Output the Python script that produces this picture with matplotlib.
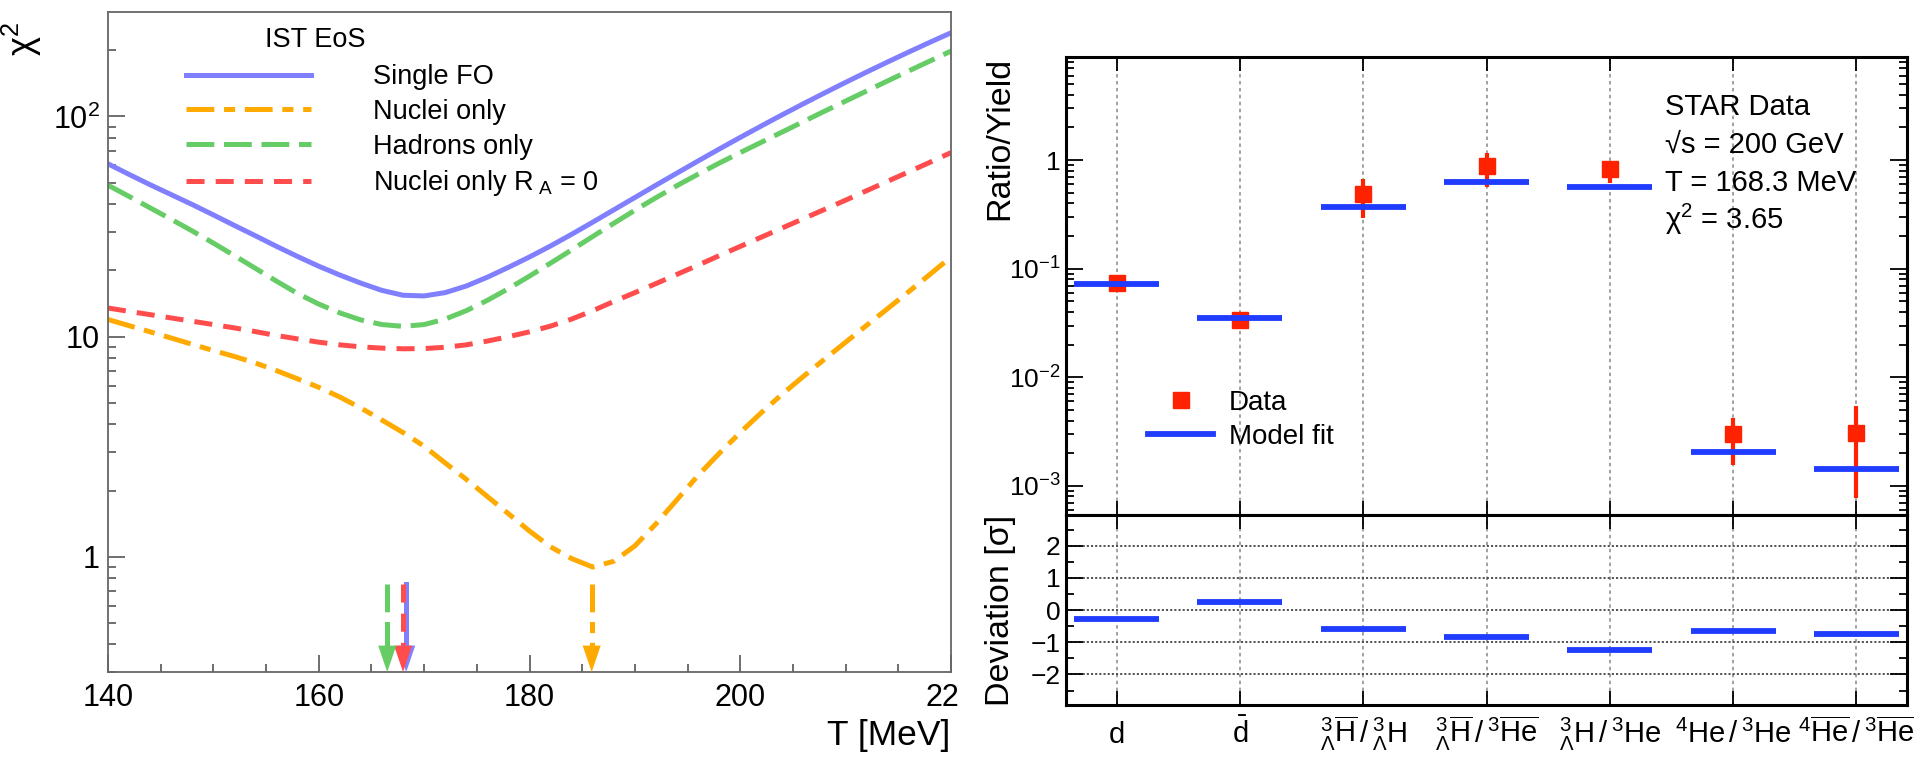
import numpy as np
import matplotlib
matplotlib.use("Agg")
import matplotlib.pyplot as plt
from matplotlib.lines import Line2D
from matplotlib.ticker import LogLocator, NullFormatter, MultipleLocator
from matplotlib.transforms import Bbox, TransformedBbox

plt.rcParams["font.family"] = ["Liberation Sans", "DejaVu Sans"]
plt.rcParams["mathtext.fontset"] = "custom"
plt.rcParams["mathtext.rm"] = "Liberation Sans"
plt.rcParams["mathtext.it"] = "Liberation Sans:italic"
plt.rcParams["mathtext.bf"] = "Liberation Sans:bold"
plt.rcParams["lines.scale_dashes"] = False

# chi^2 scans vs freeze-out temperature (IST EoS)
temp = [140, 142, 144, 146, 148, 150, 152, 154, 156, 158, 160, 162, 164, 166,
        168, 170, 172, 174, 176, 178, 180, 182, 184, 186, 188, 190, 192, 194,
        196, 198, 200, 202, 204, 206, 208, 210, 212, 214, 216, 218, 220]
chi2_single = [60.95, 54.58, 48.98, 44.16, 39.81, 35.73, 31.99, 28.71, 25.70, 23.12,
               20.89, 19.05, 17.50, 16.22, 15.42, 15.31, 15.85, 16.98, 18.62, 20.65,
               23.01, 25.82, 29.17, 33.11, 37.67, 42.85, 48.75, 55.34, 62.81, 71.12,
               80.35, 90.57, 101.9, 114.3, 127.9, 142.9, 159.2, 177.0, 196.3, 217.3, 239.9]
chi2_nuclei = [11.97, 11.22, 10.52, 9.86, 9.23, 8.65, 8.13, 7.59, 7.01, 6.43,
               5.89, 5.32, 4.74, 4.18, 3.67, 3.18, 2.67, 2.25, 1.88, 1.57,
               1.31, 1.11, 0.982, 0.899, 0.955, 1.122, 1.413, 1.820, 2.344, 2.951,
               3.673, 4.519, 5.495, 6.607, 7.907, 9.441, 11.27, 13.43, 16.03, 19.19, 23.01]
chi2_hadrons = [48.75, 43.35, 38.46, 34.12, 30.20, 26.61, 23.33, 20.42, 17.86, 15.70,
                14.06, 12.82, 11.91, 11.35, 11.14, 11.35, 12.02, 13.12, 14.62, 16.52,
                18.84, 21.58, 24.77, 28.51, 32.73, 37.50, 42.76, 48.53, 54.70, 61.38,
                68.55, 76.38, 85.11, 94.84, 105.7, 117.5, 130.6, 145.2, 161.1, 178.6, 198.2]
chi2_nuclei_ra0 = [13.49, 13.03, 12.59, 12.16, 11.75, 11.35, 10.96, 10.54, 10.12, 9.77,
                   9.44, 9.18, 8.99, 8.87, 8.81, 8.83, 8.95, 9.18, 9.55, 10.00,
                   10.52, 11.17, 12.02, 13.12, 14.45, 15.85, 17.42, 19.19, 21.13, 23.33,
                   25.70, 28.31, 31.19, 34.36, 37.84, 41.69, 46.03, 50.82, 56.10, 61.94, 68.55]
fit_labels = ["Single FO", "Nuclei only", "Hadrons only", r"Nuclei only R$_{\ \mathrm{A}}$ = 0"]
# temperature of the chi^2 minimum for each fit
t_best = [168.3, 185.9, 166.5, 168.0]

# STAR yields / ratios at sqrt(s) = 200 GeV
particles = [r"$\mathrm{d}$",
             r"$\bar{\mathrm{d}}$",
             r"${}^{3}_{\Lambda}\overline{\mathrm{H}}\,/\,{}^{3}_{\Lambda}\mathrm{H}$",
             r"${}^{3}_{\Lambda}\overline{\mathrm{H}}\,/\,{}^{3}\overline{\mathrm{He}}$",
             r"${}^{3}_{\Lambda}\mathrm{H}\,/\,{}^{3}\mathrm{He}$",
             r"${}^{4}\mathrm{He}\,/\,{}^{3}\mathrm{He}$",
             r"${}^{4}\overline{\mathrm{He}}\,/\,{}^{3}\overline{\mathrm{He}}$"]
data_val = [0.0735, 0.0340, 0.49, 0.88, 0.82, 3.0e-3, 3.1e-3]
data_low = [0.068, 0.0316, 0.292, 0.57, 0.61, 1.57e-3, 7.8e-4]
data_high = [0.079, 0.0365, 0.665, 1.17, 0.98, 4.2e-3, 5.4e-3]
model_val = [0.072, 0.0354, 0.374, 0.625, 0.566, 2.06e-3, 1.43e-3]
deviation = [-0.28, 0.25, -0.60, -0.85, -1.25, -0.64, -0.73]
fit_chi2 = 3.65

colors = ["#8080ff", "#ffaa00", "#66cc66", "#ff4d4d"]
styles = ["-", (0, (20, 7, 8, 7)), (0, (20, 7)), (0, (13, 8))]
red = "#ff2200"
blue = "#1f3cff"

fig = plt.figure(figsize=(19.14, 7.62), dpi=100)

# ---------------- left: chi^2 vs T ----------------
ax = fig.add_axes([0.0564, 0.1181, 0.4405, 0.8661])
curves = [chi2_single, chi2_nuclei, chi2_hadrons, chi2_nuclei_ra0]
handles = []
for vals, c, ls, lab in zip(curves, colors, styles, fit_labels):
    ln, = ax.plot(temp, vals, color=c, ls=ls, lw=3.6, label=lab,
                  dash_capstyle="butt", solid_joinstyle="round")
    handles.append(ln)

ax.set_yscale("log")
ymin, ymax = 0.3, 298
ax.set_ylim(ymin, ymax)
ax.set_xlim(140, 220)

# arrows marking the minima
arrow_top = 0.75
for i in [0, 3, 2, 1]:
    t, c, ls = t_best[i], colors[i], styles[i]
    ax.plot([t, t], [arrow_top, 0.36], color=c, ls=ls, lw=3.6, dash_capstyle="butt")
    ax.annotate("", xy=(t, ymin), xytext=(t, arrow_top),
                arrowprops=dict(arrowstyle="-|>,head_length=19,head_width=6.5",
                                mutation_scale=1, lw=0, color=c,
                                shrinkA=0, shrinkB=0))

ax.set_xticks([140, 160, 180, 200, 220])
ax.xaxis.set_minor_locator(MultipleLocator(5))
ax.set_yticks([1, 10, 100], labels=["1", "10", "10$^2$"])
ax.yaxis.set_minor_locator(LogLocator(subs=np.arange(2, 10)))
ax.yaxis.set_minor_formatter(NullFormatter())
ax.tick_params(which="both", direction="in", color="#555555", width=1.2,
               labelsize=22, top=False, right=False)
ax.tick_params(which="major", length=12)
ax.tick_params(which="minor", length=6)
ax.tick_params(axis="x", pad=8)
ax.tick_params(axis="y", pad=6)
for s in ax.spines.values():
    s.set_color("#666666")
    s.set_linewidth(1.3)

# last x label is cut by the panel border
last = ax.get_xticklabels()[-1]
last.set_clip_box(TransformedBbox(Bbox([[0, 0], [0.5016, 1]]), fig.transFigure))
last.set_clip_on(True)

leg = ax.legend(handles=handles, loc="upper left", bbox_to_anchor=(0.0925, 0.921),
                frameon=False, fontsize=19.5, handlelength=4.6, handletextpad=2.3,
                labelspacing=0.32, borderpad=0, borderaxespad=0)
ax.text(0.2456, 0.957, "IST EoS", transform=ax.transAxes, ha="center", va="center",
        fontsize=19.5)

fig.text(0.0115, 0.971, "χ$^2$", rotation=90, ha="center", va="top", fontsize=26)
fig.text(0.4965, 1 - 745 / 762, "T [MeV]", ha="right", va="baseline", fontsize=25.5)

# ---------------- right: yields and deviations ----------------
x = np.arange(len(particles))
half = 0.345
ax_r = fig.add_axes([0.5570, 0.3241, 0.4393, 0.6011])
ax_d = fig.add_axes([0.5570, 0.0748, 0.4393, 0.2493], sharex=ax_r)

yerr = [np.array(data_val) - np.array(data_low), np.array(data_high) - np.array(data_val)]
ax_r.errorbar(x, data_val, yerr=yerr, fmt="s", color=red, ms=12, elinewidth=3,
              capsize=0, zorder=3)
ax_r.hlines(model_val, x - half, x + half, color=blue, lw=4.2, zorder=4,
            capstyle="butt")
ax_r.set_yscale("log")
ax_r.set_ylim(5.4e-4, 8.9)
ax_r.set_xlim(-0.41, len(particles) - 1 + 0.41)
ax_r.set_yticks([1e-3, 1e-2, 1e-1, 1], labels=["10$^{-3}$", "10$^{-2}$", "10$^{-1}$", "1"])
ax_r.yaxis.set_minor_locator(LogLocator(subs=np.arange(2, 10)))
ax_r.yaxis.set_minor_formatter(NullFormatter())

ax_d.hlines(deviation, x - half, x + half, color=blue, lw=4.2, zorder=4,
            capstyle="butt")
ax_d.set_ylim(-2.95, 2.95)
ax_d.set_yticks([-2, -1, 0, 1, 2])
ax_d.yaxis.set_minor_locator(MultipleLocator(0.5))
ax_d.set_xticks(x, labels=particles)
ax_d.grid(axis="y", ls=(0, (1.5, 1.5)), color="#444444", lw=1.3)

for a in (ax_r, ax_d):
    a.grid(axis="x", ls=(0, (2.5, 2.5)), color="#888888", lw=1.1)
    a.tick_params(which="both", direction="in", top=True, right=True,
                  color="black", width=1.3, labelsize=19)
    a.tick_params(axis="y", which="major", length=12, pad=4)
    a.tick_params(axis="y", which="minor", length=6)
    a.tick_params(axis="x", length=10)
    for s in a.spines.values():
        s.set_linewidth(2.2)
    a.set_axisbelow(True)

ax_r.tick_params(axis="x", labelbottom=False)
ax_d.tick_params(axis="x", labelsize=21, pad=27)
for lab in ax_d.get_xticklabels():
    lab.set_verticalalignment("baseline")

ax_r.legend(handles=[Line2D([], [], ls="none", marker="s", color=red, ms=12),
                     Line2D([], [], color=blue, lw=4.2)],
            labels=["Data", "Model fit"], loc="upper left",
            bbox_to_anchor=(0.0975, 0.274), frameon=False, fontsize=20,
            handlelength=2.35, handletextpad=0.55, labelspacing=0.3,
            borderpad=0, borderaxespad=0)

info = ["STAR Data", "√s = 200 GeV", f"T = {t_best[0]:.1f} MeV", f"χ$^2$ = {fit_chi2:.2f}"]
for k, line in enumerate(info):
    ax_r.text(0.712, 0.873 - 0.0825 * k, line, transform=ax_r.transAxes,
              fontsize=21, va="baseline", ha="left")

fig.text(0.5225, 0.925, "Ratio/Yield", rotation=90, ha="center", va="top", fontsize=24.5)
fig.text(0.5225, 0.3241, "Deviation [σ]", rotation=90, ha="center", va="top", fontsize=24.5)

fig.savefig("out.png", dpi=100)
